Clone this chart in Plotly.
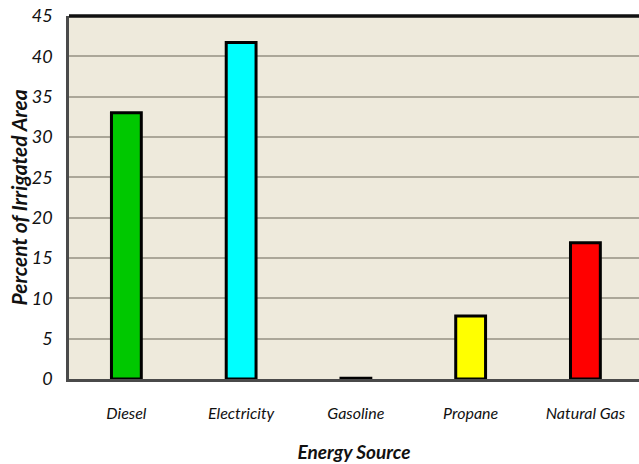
import plotly.graph_objects as go

categories = ["Diesel", "Electricity", "Gasoline", "Propane", "Natural Gas"]
values = [33, 41.7, 0.1, 7.8, 16.9]
bar_colors = ["#00C800", "#00FFFF", "#202020", "#FFFF00", "#FF0000"]
y_ticks = [0, 5, 10, 15, 20, 25, 30, 35, 40, 45]

font_family = "Lato, 'Open Sans', sans-serif"

fig = go.Figure()
fig.add_trace(go.Bar(
    x=list(range(len(categories))),
    y=values,
    width=0.26,
    marker=dict(color=bar_colors, line=dict(color="#000000", width=3)),
))

fig.update_layout(
    width=639, height=464,
    margin=dict(l=69, r=0, t=16, b=85),
    paper_bgcolor="white",
    plot_bgcolor="#EEEADC",
    showlegend=False,
    font=dict(family=font_family, color="#111111"),
)

fig.update_xaxes(
    range=[-0.5, 4.467],
    automargin=False,
    tickmode="array",
    tickvals=list(range(len(categories))),
    ticktext=["<i>" + c + "</i>" for c in categories],
    tickfont=dict(size=16, family=font_family, color="#111111"),
    ticks="",
    ticklabelstandoff=18,
    showgrid=False,
    showline=True, linecolor="#4a4a4a", linewidth=2.5,
    zeroline=False,
    title=dict(text="<b><i>Energy Source</i></b>", font=dict(size=19, family=font_family, color="#111111"), standoff=25),
)

fig.update_yaxes(
    range=[0, 45],
    automargin=False,
    tickmode="array",
    tickvals=y_ticks,
    ticktext=["<i>%d</i>" % t for t in y_ticks],
    tickfont=dict(size=18, family=font_family, color="#111111"),
    ticks="",
    ticklabelstandoff=10,
    ticklabeloverflow="allow",
    showgrid=True, gridcolor="#ABA799", gridwidth=1.5,
    showline=True, linecolor="#4a4a4a", linewidth=2.5,
    zeroline=False,
)

fig.add_annotation(
    text="<b><i>Percent of Irrigated Area</i></b>",
    textangle=-90,
    xref="paper", yref="paper", x=0, y=0.5,
    xanchor="center", yanchor="middle", xshift=-51,
    showarrow=False,
    font=dict(size=21, family=font_family, color="#111111"),
)

fig.add_shape(type="line", xref="paper", yref="paper", x0=0, x1=1, y0=1, y1=1,
              line=dict(color="#111111", width=3.5))

fig.write_html("out.html", config={"displayModeBar": False},
               post_script="document.body.style.margin='0';")
